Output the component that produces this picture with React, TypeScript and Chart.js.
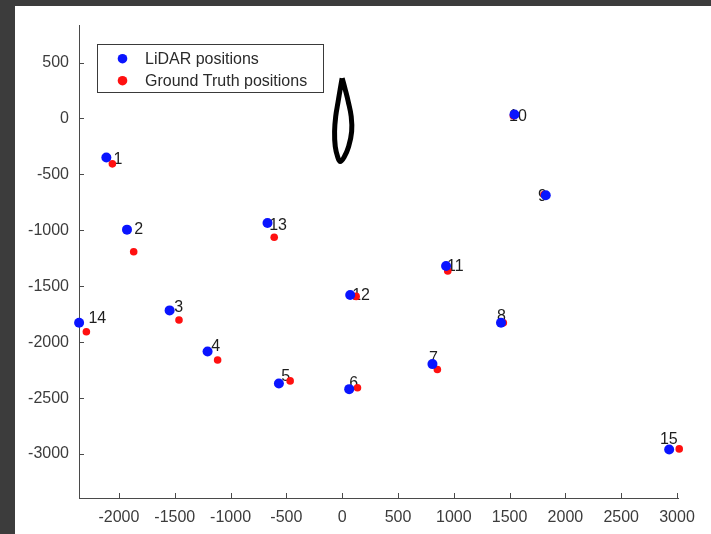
import { useEffect, useRef } from 'react';
import { Chart, registerables } from 'chart.js';

Chart.register(...registerables);

// Point numbers 1..15
const pointLabels = ['1', '2', '3', '4', '5', '6', '7', '8', '9', '10', '11', '12', '13', '14', '15'];

const lidarX = [-2113, -1928, -1546, -1206, -567, 63, 809, 1423, 1824, 1544, 931, 72, -669, -2357, 2930];
const lidarY = [-349, -994, -1716, -2083, -2370, -2420, -2196, -1826, -686, 36, -1319, -1578, -934, -1826, -2960];

const truthX = [-2059, -1868, -1462, -1116, -466, 137, 853, 1444, 1808, 1534, 946, 125, -609, -2292, 3020];
const truthY = [-406, -1191, -1802, -2160, -2346, -2408, -2244, -1826, -680, 24, -1363, -1591, -1062, -1907, -2954];

const labelX = [-2050, -1862, -1504, -1173, -546, 63, 779, 1388, 1755, 1495, 940, 90, -654, -2274, 2847];
const labelY = [-367, -994, -1692, -2041, -2310, -2372, -2149, -1773, -698, 18, -1325, -1585, -958, -1791, -2874];

// Black trajectory loop near the origin
const loopX = [0, 27, 54, 81, 85, 58, 18, -18, -40, -62, -68, -58, -36, -18, -4, 0];
const loopY = [360, 260, 152, 18, -116, -251, -345, -385, -345, -251, -116, 18, 152, 260, 340, 360];

const xTicks = [-2000, -1500, -1000, -500, 0, 500, 1000, 1500, 2000, 2500, 3000];
const yTicks = [-3000, -2500, -2000, -1500, -1000, -500, 0, 500];

const legendLabels = ['LiDAR positions', 'Ground Truth positions'];

const FONT = '"Liberation Sans", Arial, Helvetica, sans-serif';
const AXIS = '#4a4a4a';
const BLUE = '#0a14ff';
const RED = '#ff1010';

const overlay = {
  id: 'overlay',
  beforeDatasetsDraw(chart: any) {
    const { ctx } = chart;
    const xs = chart.scales.x;
    const ys = chart.scales.y;
    ctx.save();
    ctx.font = `16px ${FONT}`;
    ctx.fillStyle = '#1e1e1e';
    ctx.textAlign = 'left';
    ctx.textBaseline = 'middle';
    pointLabels.forEach((t, i) => {
      ctx.fillText(t, xs.getPixelForValue(labelX[i]), ys.getPixelForValue(labelY[i]));
    });
    ctx.restore();
  },
  afterDraw(chart: any) {
    const { ctx } = chart;
    const xs = chart.scales.x;
    const ys = chart.scales.y;
    ctx.save();
    // inward tick marks
    ctx.strokeStyle = AXIS;
    ctx.lineWidth = 1;
    ctx.beginPath();
    xTicks.forEach((v) => {
      const px = Math.round(xs.getPixelForValue(v)) + 0.5;
      ctx.moveTo(px, ys.bottom);
      ctx.lineTo(px, ys.bottom - 5);
    });
    yTicks.forEach((v) => {
      const py = Math.round(ys.getPixelForValue(v)) + 0.5;
      ctx.moveTo(xs.left, py);
      ctx.lineTo(xs.left + 5, py);
    });
    ctx.stroke();

    // legend
    const bx = 82.5, by = 38.5, bw = 226, bh = 48;
    ctx.fillStyle = '#ffffff';
    ctx.fillRect(bx, by, bw, bh);
    ctx.strokeStyle = '#3a3a3a';
    ctx.strokeRect(bx, by, bw, bh);
    const colors = [BLUE, RED];
    const rows = [52.7, 74.7];
    ctx.font = `16px ${FONT}`;
    ctx.textAlign = 'left';
    ctx.textBaseline = 'middle';
    legendLabels.forEach((t, i) => {
      ctx.fillStyle = colors[i];
      ctx.beginPath();
      ctx.arc(107.5, rows[i], 4.8, 0, Math.PI * 2);
      ctx.fill();
      ctx.fillStyle = '#2a2a2a';
      ctx.fillText(t, 130, rows[i] + 1);
    });
    ctx.restore();
  },
};

export default function App() {
  const ref = useRef<HTMLCanvasElement | null>(null);

  useEffect(() => {
    if (!ref.current) return;
    const chart = new Chart(ref.current, {
      type: 'scatter',
      data: {
        datasets: [
          {
            label: 'loop',
            data: loopX.map((x, i) => ({ x, y: loopY[i] })),
            showLine: true,
            borderColor: '#000000',
            borderWidth: 5,
            tension: 0.4,
            pointRadius: 0,
            fill: false,
            clip: false,
          },
          {
            label: legendLabels[0],
            data: lidarX.map((x, i) => ({ x, y: lidarY[i] })),
            backgroundColor: BLUE,
            borderColor: BLUE,
            borderWidth: 0,
            pointRadius: 5,
            clip: false,
          },
          {
            label: legendLabels[1],
            data: truthX.map((x, i) => ({ x, y: truthY[i] })),
            backgroundColor: RED,
            borderColor: RED,
            borderWidth: 0,
            pointRadius: 3.8,
            clip: false,
          },
        ],
      },
      options: {
        animation: false,
        responsive: false,
        layout: { padding: { top: 19, right: 33, left: 0, bottom: 0 } },
        plugins: {
          legend: { display: false },
          tooltip: { enabled: false },
        },
        scales: {
          x: {
            type: 'linear',
            min: -2358,
            max: 3009,
            grid: { display: false, drawTicks: false },
            border: { display: true, color: AXIS, width: 1 },
            afterBuildTicks: (s: any) => {
              s.ticks = xTicks.map((v) => ({ value: v }));
            },
            afterFit: (s: any) => {
              s.height = 36;
            },
            ticks: {
              padding: 10,
              color: '#3c3c3c',
              font: { family: FONT, size: 16 },
              maxRotation: 0,
              autoSkip: false,
              callback: (v: any) => String(v),
            },
          },
          y: {
            type: 'linear',
            min: -3393,
            max: 830,
            grid: { display: false, drawTicks: false },
            border: { display: true, color: AXIS, width: 1 },
            afterBuildTicks: (s: any) => {
              s.ticks = yTicks.map((v) => ({ value: v }));
            },
            afterFit: (s: any) => {
              s.width = 64;
            },
            ticks: {
              padding: 10,
              color: '#3c3c3c',
              font: { family: FONT, size: 16 },
              autoSkip: false,
              callback: (v: any) => String(v),
            },
          },
        },
      },
      plugins: [overlay],
    });
    return () => chart.destroy();
  }, []);

  return (
    <div style={{ position: 'fixed', left: 0, top: 0, width: 711, height: 534, background: '#3c3c3c' }}>
      <div style={{ position: 'absolute', left: 15, top: 6, width: 696, height: 528, background: '#ffffff' }}>
        <canvas ref={ref} width={696} height={528} style={{ display: 'block' }} />
      </div>
    </div>
  );
}
